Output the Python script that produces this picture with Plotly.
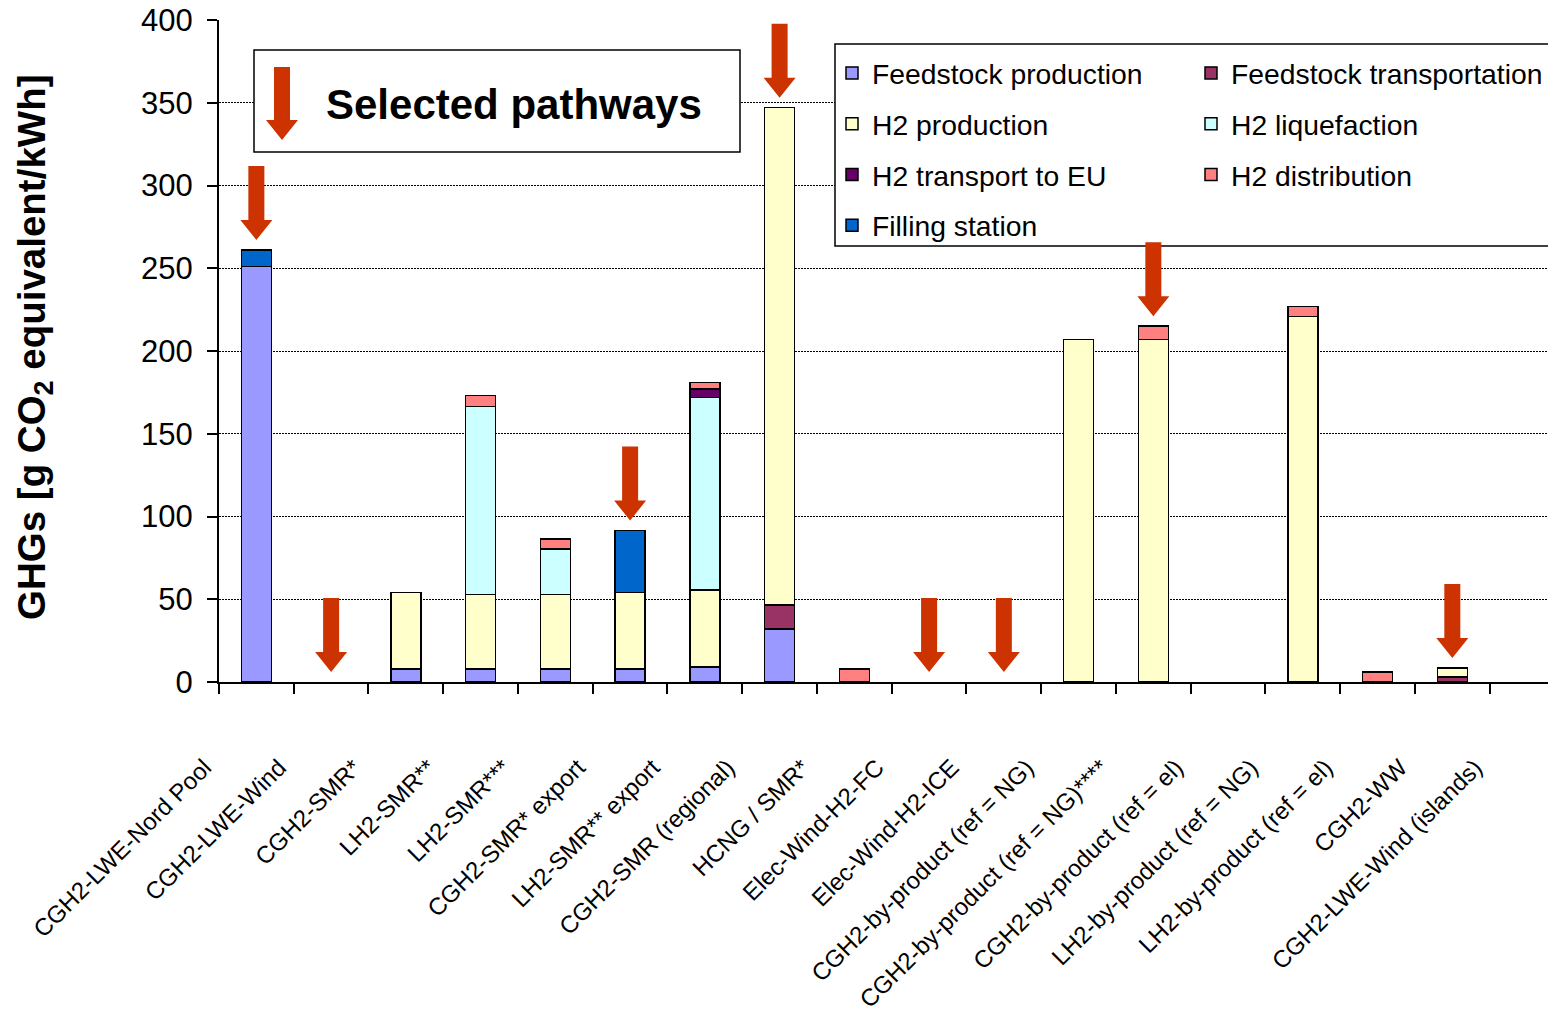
import plotly.graph_objects as go

# Pathway categories (x axis)
categories = [
    "CGH2-LWE-Nord Pool", "CGH2-LWE-Wind", "CGH2-SMR*", "LH2-SMR**", "LH2-SMR***",
    "CGH2-SMR* export", "LH2-SMR** export", "CGH2-SMR (regional)", "HCNG / SMR*",
    "Elec-Wind-H2-FC", "Elec-Wind-H2-ICE", "CGH2-by-product (ref = NG)",
    "CGH2-by-product (ref = NG)****", "CGH2-by-product (ref = el)",
    "LH2-by-product (ref = NG)", "LH2-by-product (ref = el)", "CGH2-WW",
    "CGH2-LWE-Wind (islands)",
]

# GHG contributions per stage [g CO2 eq/kWh]
feedstock_production = [251, 0, 8, 8, 8, 8, 9, 32, 0, 0, 0, 0, 0, 0, 0, 0, 0, 0]
feedstock_transportation = [0, 0, 0, 0, 0, 0, 0, 14.5, 0, 0, 0, 0, 0, 0, 0, 0, 3, 0]
h2_production = [0, 0, 46, 45, 45, 46, 46.5, 300.5, 0, 0, 0, 207, 207, 0, 221, 0, 5.5, 0]
h2_liquefaction = [0, 0, 0, 113.5, 27.5, 0, 116.5, 0, 0, 0, 0, 0, 0, 0, 0, 0, 0, 0]
h2_transport_eu = [0, 0, 0, 0, 0, 0, 5, 0, 0, 0, 0, 0, 0, 0, 0, 0, 0, 0]
h2_distribution = [0, 0, 0, 6.5, 6, 0, 4, 0, 8, 0, 0, 0, 8, 0, 6, 6, 0, 0]
filling_station = [10, 0, 0, 0, 0, 37.5, 0, 0, 0, 0, 0, 0, 0, 0, 0, 0, 0, 0]

# Pathways marked with a red arrow
selected = [
    "CGH2-LWE-Nord Pool", "CGH2-LWE-Wind", "CGH2-SMR* export", "CGH2-SMR (regional)",
    "Elec-Wind-H2-FC", "Elec-Wind-H2-ICE", "CGH2-by-product (ref = NG)****", "CGH2-WW",
]

series = [
    ("Feedstock production", feedstock_production, "#9999FF", "legend"),
    ("Feedstock transportation", feedstock_transportation, "#993366", "legend2"),
    ("H2 production", h2_production, "#FFFFCC", "legend"),
    ("H2 liquefaction", h2_liquefaction, "#CCFFFF", "legend2"),
    ("H2 transport to EU", h2_transport_eu, "#660066", "legend"),
    ("H2 distribution", h2_distribution, "#FF8080", "legend2"),
    ("Filling station", filling_station, "#0066CC", "legend"),
]

FONT = "Liberation Sans, Arial, sans-serif"
ARROW = "#CC3300"

fig = go.Figure()
for name, vals, color, leg in series:
    fig.add_trace(go.Bar(
        name=name,
        x=categories,
        y=[v if v else None for v in vals],
        marker=dict(color=color, line=dict(color="black", width=1.5)),
        legend=leg,
        legendgroup=name,
    ))

# stack totals, used to place the arrows above the bars
totals = [sum(s[1][i] for s in series) for i in range(len(categories))]

arrow_path = "M 0,10 L 16,30 L 8,30 L 8,84 L -8,84 L -8,30 L -16,30 Z"
shapes = []
# plot-area geometry in pixels, for the framed boxes
W, H, L, T = 1329, 662, 219, 20
def px(xp):
    return (xp - L) / W
def py(yp):
    return (T + H - yp) / H

shapes.append(dict(type="rect", xref="paper", yref="paper", layer="above",
                   x0=px(254), x1=px(740), y0=py(152), y1=py(50),
                   line=dict(color="black", width=1.5), fillcolor="white"))
shapes.append(dict(type="rect", xref="paper", yref="paper", layer="above",
                   x0=px(835), x1=1.05, y0=py(246), y1=py(44),
                   line=dict(color="black", width=1.5), fillcolor="white"))
shapes.append(dict(type="path", xref="paper", yref="paper", layer="above",
                   xsizemode="pixel", ysizemode="pixel",
                   xanchor=px(282), yanchor=py(140),
                   path="M 0,0 L 16,20 L 8,20 L 8,73 L -8,73 L -8,20 L -16,20 Z",
                   fillcolor=ARROW, line=dict(width=0)))
for name in selected:
    i = categories.index(name)
    shapes.append(dict(type="path", xref="x", yref="y", layer="above",
                       xsizemode="pixel", ysizemode="pixel",
                       xanchor=i, yanchor=totals[i], path=arrow_path,
                       fillcolor=ARROW, line=dict(width=0)))

annotations = [
    dict(text="<b>Selected pathways</b>", xref="paper", yref="paper",
         x=px(324), y=py(105), xanchor="left", yanchor="middle", showarrow=False,
         font=dict(family=FONT, size=42, color="black")),
    dict(text="<b>GHGs [g CO<sub>2</sub> equivalent/kWh]</b>", xref="paper", yref="paper",
         x=px(34), y=py(347), xanchor="center", yanchor="middle", showarrow=False,
         textangle=-90, font=dict(family=FONT, size=38.5, color="black")),
]

legend_common = dict(
    bgcolor="rgba(0,0,0,0)", borderwidth=0, orientation="v",
    font=dict(family=FONT, size=28.3, color="black"),
    tracegroupgap=11, traceorder="grouped", xanchor="left", yanchor="top",
    itemclick=False, itemdoubleclick=False,
)

fig.update_layout(
    width=1548, height=1019,
    margin=dict(l=L, r=0, t=T, b=1019 - T - H, autoexpand=False),
    paper_bgcolor="white", plot_bgcolor="white",
    barmode="stack", bargap=0.6,
    font=dict(family=FONT, color="black"),
    showlegend=True,
    legend=dict(x=px(832), y=py(48), **legend_common),
    legend2=dict(x=px(1191), y=py(48), **legend_common),
    shapes=shapes,
    annotations=annotations,
    xaxis=dict(
        type="category", categoryorder="array", categoryarray=categories,
        range=[-0.5, 17.28], tickson="boundaries", ticks="outside", ticklen=10,
        tickwidth=2, tickcolor="black", showline=True, linecolor="black", linewidth=2,
        showgrid=False, zeroline=False, tickangle=-45,
        tickfont=dict(family=FONT, size=24, color="black"),
        ticklabelshift=-52, ticklabelstandoff=60,
    ),
    yaxis=dict(
        range=[0, 400], tickvals=[0, 50, 100, 150, 200, 250, 300, 350, 400],
        ticks="outside", ticklen=10, tickwidth=2, tickcolor="black",
        showline=True, linecolor="black", linewidth=2,
        showgrid=True, gridcolor="black", gridwidth=1, griddash="2px,1px",
        zeroline=False, tickfont=dict(family=FONT, size=31, color="black"),
        ticklabelstandoff=8,
    ),
)

fig.write_html("out.html")
